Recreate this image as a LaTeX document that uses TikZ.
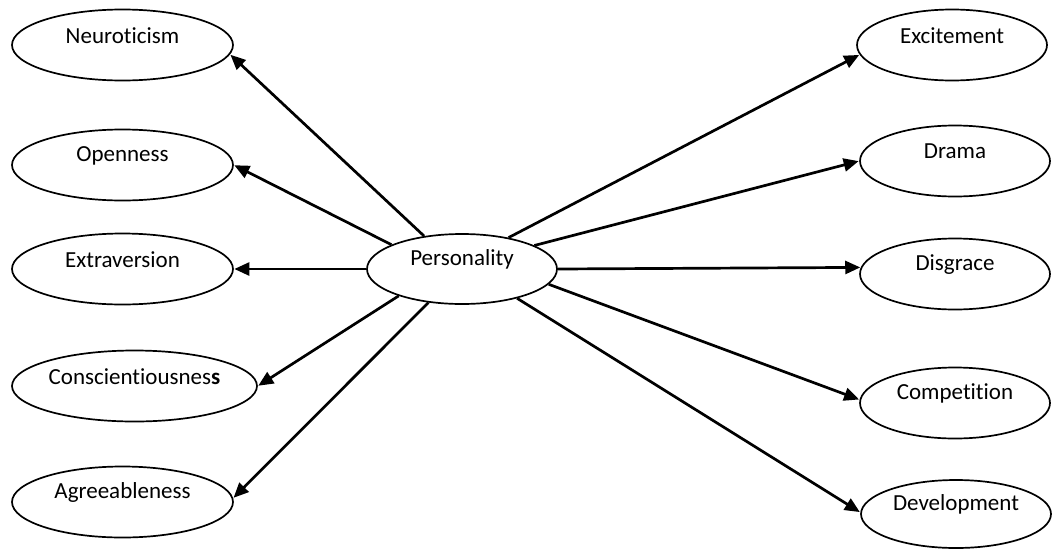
\documentclass[tikz,border=0pt]{standalone}
\usepackage{fontspec}
\setmainfont{Carlito}[Ligatures=NoCommon]
\usetikzlibrary{arrows.meta,shapes.geometric}
\tikzset{
  oval/.style={draw, ellipse, line width=1.7pt, inner sep=0pt, minimum height=71pt},
  lab/.style={font=\fontsize{23}{26}\selectfont, inner sep=0pt},
  conn/.style={line width=2.7pt, -{Triangle[length=15pt,width=13pt]}, shorten >=0.5pt},
}
\begin{document}
\begin{tikzpicture}[x=1pt,y=-1pt]
\useasboundingbox (0,0) rectangle (1054,549);
% left column
\node[oval, minimum width=221pt, label={[lab,yshift=9.5pt]center:Neuroticism}] (neu) at (122.5,45) {};
\node[oval, minimum width=221pt, label={[lab,yshift=9.5pt]center:Openness}] (ope) at (122.5,165) {};
\node[oval, minimum width=221pt, label={[lab,yshift=9.5pt]center:Extraversion}] (ext) at (122.5,269) {};
\node[oval, minimum width=245pt, label={[lab,yshift=9.5pt]center:Conscientiousnes\textbf{s}}] (con) at (134.5,386) {};
\node[oval, minimum width=221pt, label={[lab,yshift=9.5pt]center:Agreeableness}] (agr) at (122.5,502) {};
% centre
\node[oval, minimum width=190pt, minimum height=70pt, label={[lab,yshift=9.5pt]center:Personality}] (per) at (462,269) {};
% right column
\node[oval, minimum width=190pt, label={[lab,yshift=9.5pt]center:Excitement}] (exc) at (952,45) {};
\node[oval, minimum width=190pt, label={[lab,yshift=9.5pt]center:Drama}] (dra) at (955,161) {};
\node[oval, minimum width=190pt, label={[lab,yshift=9.5pt]center:Disgrace}] (dis) at (955,274) {};
\node[oval, minimum width=190pt, label={[lab,yshift=9.5pt]center:Competition}] (com) at (955,403) {};
\node[oval, minimum width=190pt, minimum height=68pt, label={[lab,yshift=9.5pt]center:Development}] (dev) at (956,514) {};
% connectors
\draw[conn] (per.139.8) -- (neu.-5);
\draw[conn] (per.161.6) -- (ope.east);
\draw[conn] (per.west) -- (ext.east);
\draw[conn] (per.-157.4) -- (con.east);
\draw[conn] (per.225) -- (agr.2.6);
\draw[conn] (per.34.5) -- (exc.186);
\draw[conn] (per.18.4) -- (dra.west);
\draw[conn] (per.east) -- (dis.176.4);
\draw[conn] (per.-10.9) -- (com.178);
\draw[conn] (per.-28.4) -- (dev.179);
\end{tikzpicture}
\end{document}
